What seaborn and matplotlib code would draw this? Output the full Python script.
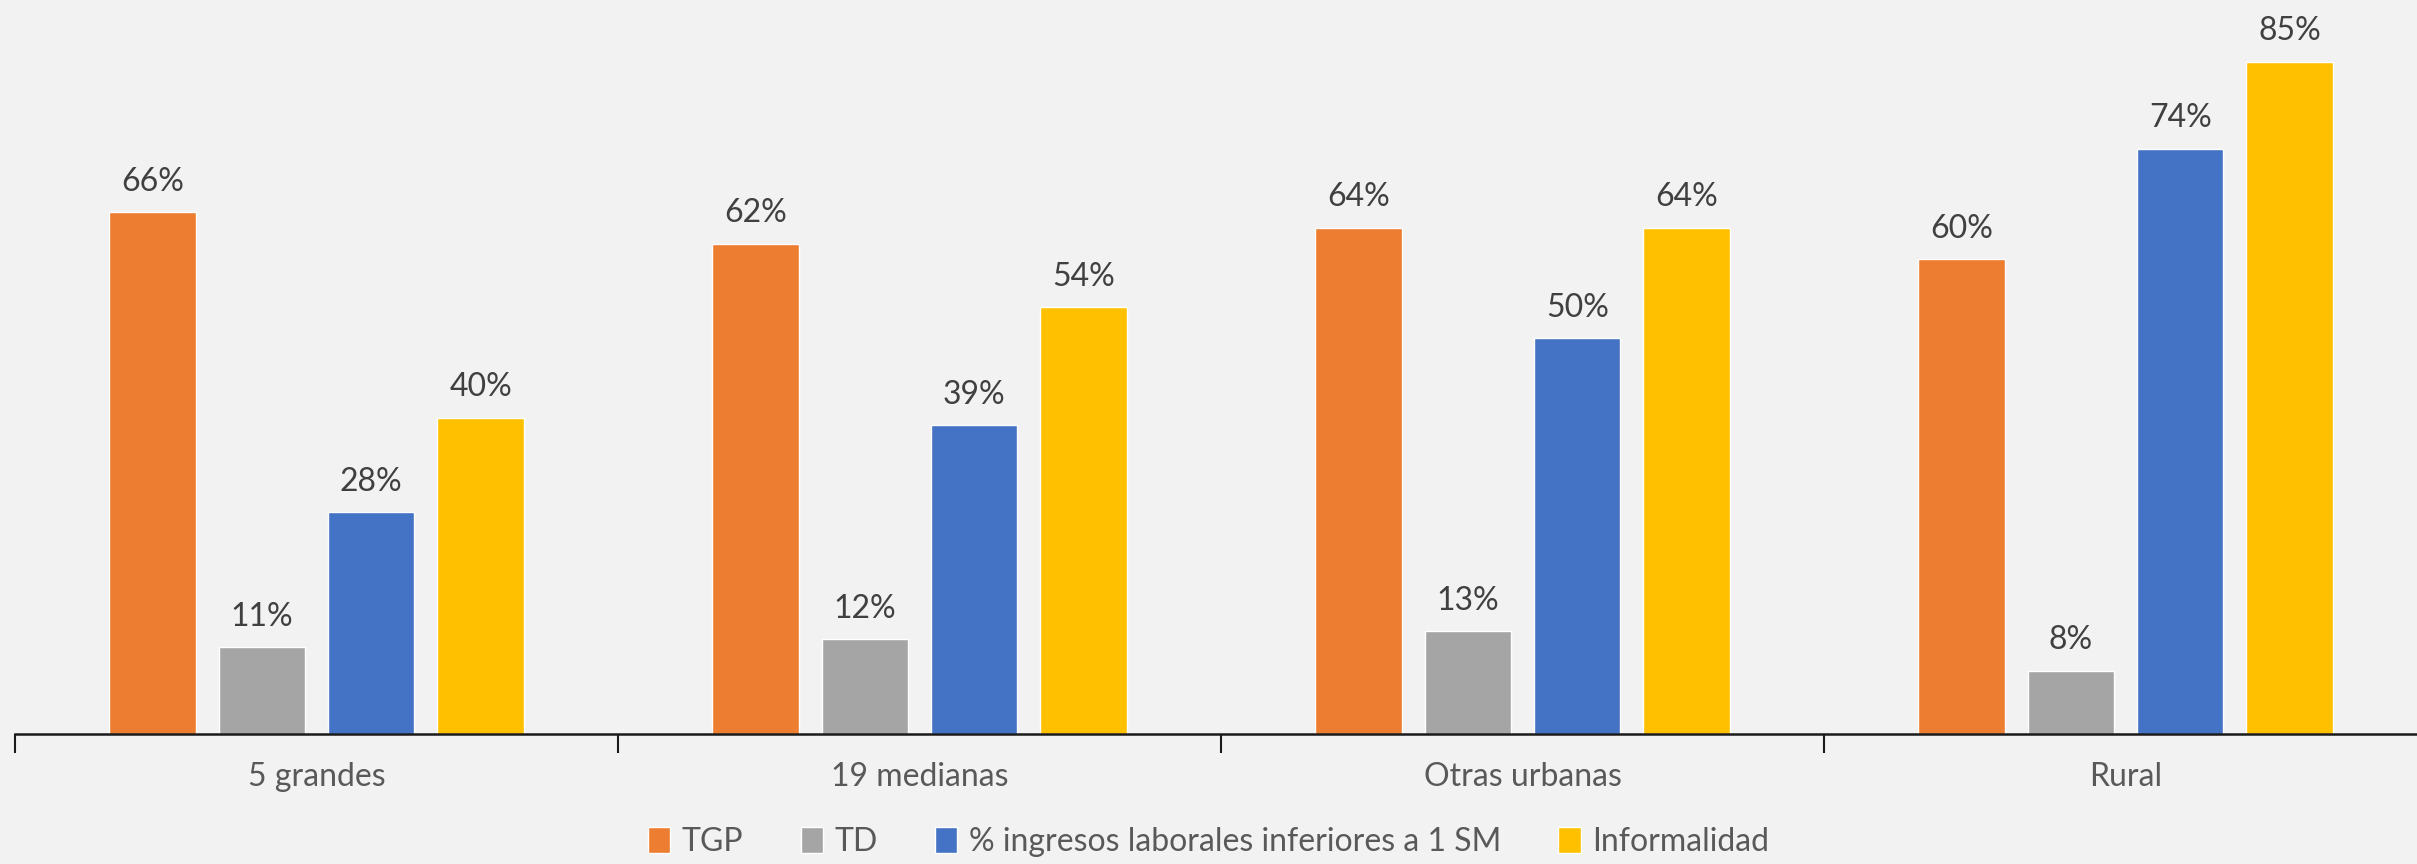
import pandas as pd
import numpy as np
import matplotlib.pyplot as plt
import seaborn as sns

# ========== datos ==========
categorias = ['5 grandes', '19 medianas', 'Otras urbanas', 'Rural']
series = ['TGP', 'TD', '% ingresos laborales inferiores a 1 SM', 'Informalidad']
tgp = [66, 62, 64, 60]
td = [11, 12, 13, 8]
ingresos_1sm = [28, 39, 50, 74]
informalidad = [40, 54, 64, 85]
colores = ['#ED7D31', '#A5A5A5', '#4472C4', '#FFC000']

sns.set_theme(style='white')
plt.rcParams['font.family'] = ['Lato', 'DejaVu Sans']

df = pd.DataFrame({
    'categoria': categorias * 4,
    'serie': np.repeat(series, len(categorias)),
    'valor': tgp + td + ingresos_1sm + informalidad,
})

fondo = '#F2F2F2'
fig = plt.figure(figsize=(24.17, 8.64), dpi=100, facecolor=fondo)
ax = fig.add_axes([15 / 2417, 130 / 864, 2412 / 2417, 712 / 864], facecolor=fondo)

sns.barplot(data=df, x='categoria', y='valor', hue='serie', order=categorias,
            hue_order=series, palette=colores, width=0.726, gap=0.21,
            saturation=1, errorbar=None, ax=ax, legend=True)

for c in ax.containers:
    ax.bar_label(c, fmt='%.0f%%', padding=11, fontsize=23, color='#404040')

ax.set_xlim(-0.5, 3.5)
ax.set_ylim(0, 90)
ax.set_xlabel('')
ax.set_ylabel('')
ax.set_yticks([])
for s in ['left', 'right', 'top']:
    ax.spines[s].set_visible(False)
ax.spines['bottom'].set_color('#1a1a1a')
ax.spines['bottom'].set_linewidth(1.8)

# ticks: etiquetas en el centro, marcas en los bordes de grupo
ax.set_xticks(range(len(categorias)))
ax.set_xticklabels(categorias, fontsize=23, color='#595959')
ax.tick_params(axis='x', which='major', length=0, pad=20)
ax.set_xticks(np.arange(-0.5, 4, 1), minor=True)
ax.tick_params(axis='x', which='minor', bottom=True, length=14, width=1.5,
               color='#1a1a1a', direction='out')

handles, labels = ax.get_legend_handles_labels()
ax.legend(handles, labels, loc='center', bbox_to_anchor=(0.5, 22 / 864),
          bbox_transform=fig.transFigure, ncol=4, frameon=False,
          fontsize=23, labelcolor='#595959', handlelength=0.7, handleheight=0.9,
          handletextpad=0.35, columnspacing=1.8)

plt.savefig('out.png', dpi=100, facecolor=fondo)
